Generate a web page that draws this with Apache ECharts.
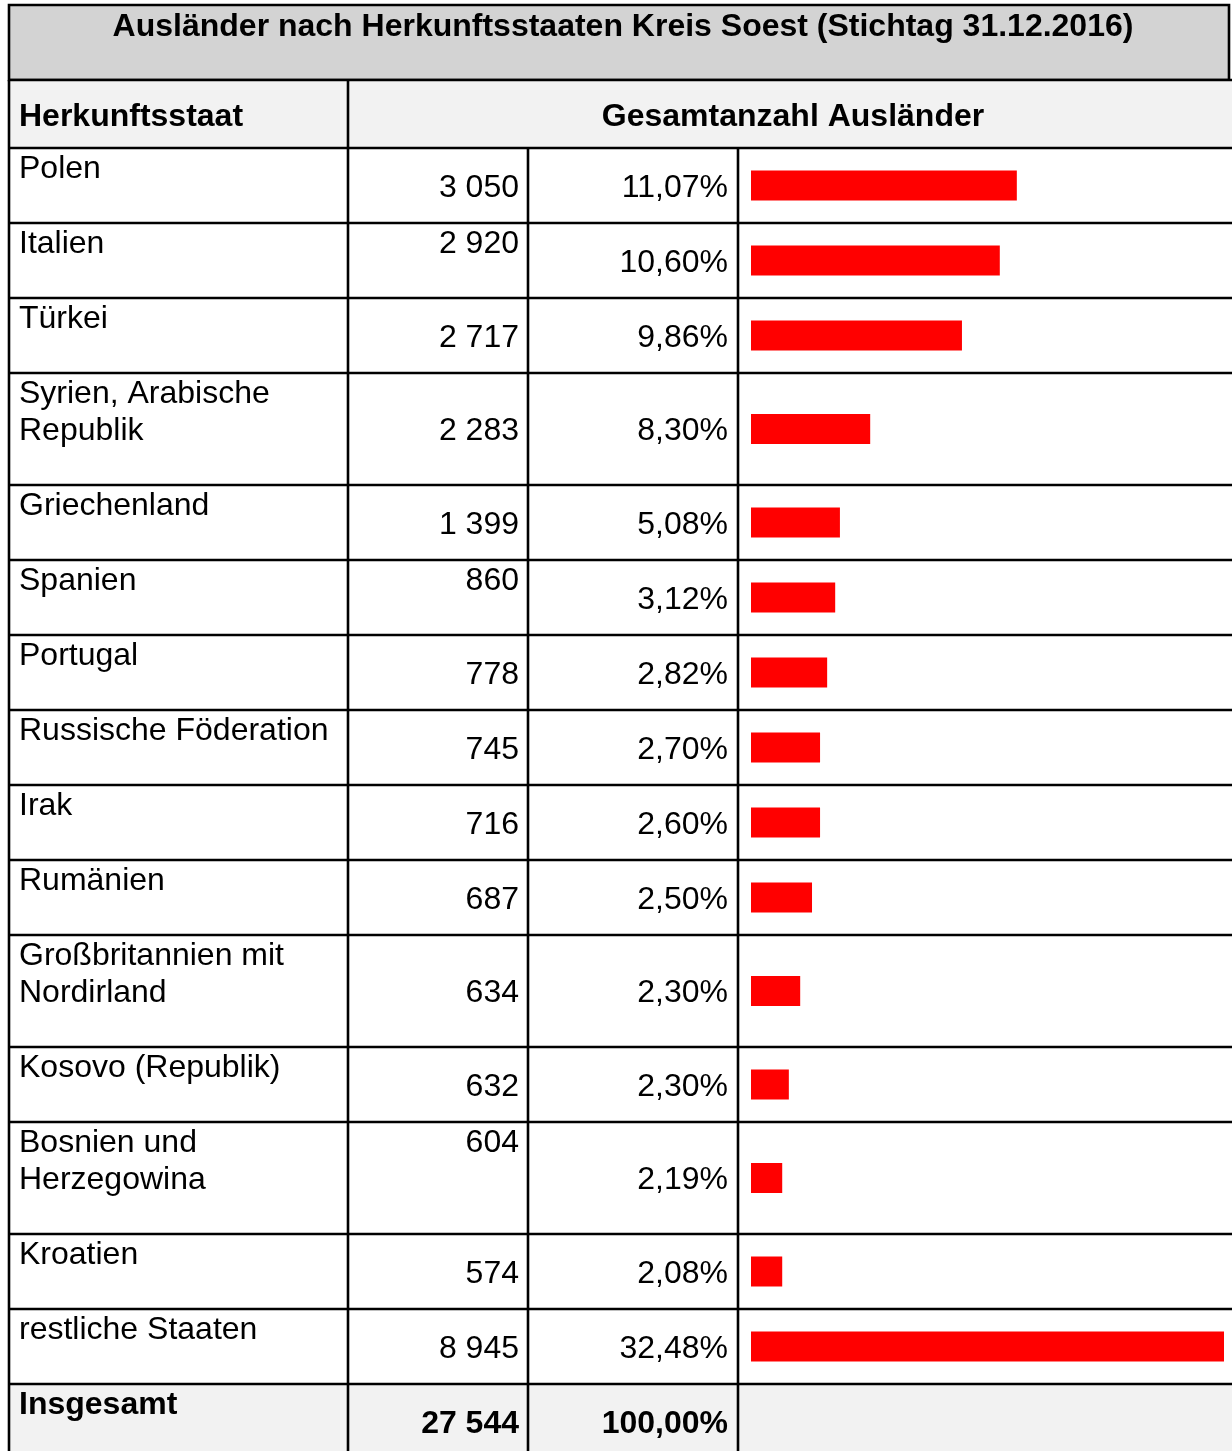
<!DOCTYPE html>
<html>
<head>
<meta charset="utf-8">
<script src="https://cdn.jsdelivr.net/npm/echarts@6/dist/echarts.min.js"></script>
<style>
html, body { margin: 0; padding: 0; background: #fff; }
#chart { width: 1232px; height: 1451px; }
</style>
</head>
<body>
<div id="chart"></div>
<script>
// Ausländer nach Herkunftsstaaten, Kreis Soest

const titleText = 'Ausländer nach Herkunftsstaaten Kreis Soest (Stichtag 31.12.2016)';
const headerLeft = 'Herkunftsstaat';
const headerRight = 'Gesamtanzahl Ausländer';

const countries = ['Polen', 'Italien', 'Türkei', 'Syrien, Arabische\nRepublik', 'Griechenland', 'Spanien',
    'Portugal', 'Russische Föderation', 'Irak', 'Rumänien', 'Großbritannien mit\nNordirland',
    'Kosovo (Republik)', 'Bosnien und\nHerzegowina', 'Kroatien', 'restliche Staaten'];
const counts = [3050, 2920, 2717, 2283, 1399, 860, 778, 745, 716, 687, 634, 632, 604, 574, 8945];
const percents = [11.07, 10.60, 9.86, 8.30, 5.08, 3.12, 2.82, 2.70, 2.60, 2.50, 2.30, 2.30, 2.19, 2.08, 32.48];
// Balkenlänge in % des längsten Balkens
const barValues = [56.2, 52.6, 44.6, 25.2, 18.8, 17.8, 16.1, 14.6, 14.6, 12.9, 10.4, 8.0, 6.6, 6.6, 100];
const totalLabel = 'Insgesamt';
const totalCount = 27544;
const totalPercent = 100;

// Zahlen, die in der Zelle oben stehen statt mittig
const countTopAligned = ['Italien', 'Spanien', 'Bosnien und\nHerzegowina'];

const FONT = "'Liberation Sans', Arial, sans-serif";
const colX = [9, 348, 528, 738];
const RIGHT = 1232;
const LINE_W = 2.6;
const tableTop = 148;

function fmtCount(n) {
    return String(n).replace(/\B(?=(\d{3})+(?!\d))/g, ' ');
}
function fmtPct(p) {
    return p.toFixed(2).replace('.', ',') + '%';
}

// Zeilenhöhen aus Anzahl der Textzeilen
const rowTops = [];
const rowHeights = [];
let y = tableTop;
countries.concat([totalLabel]).forEach(name => {
    const lines = name.split('\n').length;
    const h = 38 + 37 * lines;
    rowTops.push(y);
    rowHeights.push(h);
    y += h;
});

function line(x1, y1, x2, y2) {
    return {
        type: 'line',
        shape: { x1: x1, y1: y1, x2: x2, y2: y2 },
        style: { stroke: '#000', lineWidth: LINE_W }
    };
}

function txt(text, x, y, align, vAlign, bold) {
    return {
        type: 'text',
        style: {
            text: text, x: x, y: y,
            align: align, verticalAlign: vAlign,
            fontSize: 32, fontFamily: FONT, fontWeight: bold ? 'bold' : 'normal',
            lineHeight: 37, fill: '#000'
        }
    };
}

function renderRow(params, api) {
    const i = params.dataIndex;
    const isTotal = i === countries.length;
    const top = rowTops[i];
    const h = rowHeights[i];
    const mid = top + h / 2;
    const name = isTotal ? totalLabel : countries[i];
    const children = [];

    if (isTotal) {
        children.push({
            type: 'rect',
            shape: { x: colX[0], y: top, width: RIGHT - colX[0], height: h },
            style: { fill: '#f2f2f2' }
        });
    }

    if (!isTotal) {
        const x0 = api.coord([0, i])[0];
        const x1 = api.coord([api.value(0), i])[0];
        children.push({
            type: 'rect',
            shape: { x: x0, y: mid - 15, width: x1 - x0, height: 30 },
            style: { fill: '#ff0000' }
        });
    }

    children.push(line(colX[0], top, RIGHT, top));
    colX.forEach(cx => children.push(line(cx, top, cx, top + h)));

    children.push(txt(name, 19, top + 3, 'left', 'top', isTotal));

    const countStr = fmtCount(isTotal ? totalCount : counts[i]);
    if (!isTotal && countTopAligned.indexOf(name) >= 0) {
        children.push(txt(countStr, 519, top + 3, 'right', 'top', false));
    } else {
        children.push(txt(countStr, 519, mid + 2.5, 'right', 'middle', isTotal));
    }
    children.push(txt(fmtPct(isTotal ? totalPercent : percents[i]), 728, mid + 2.5, 'right', 'middle', isTotal));

    return { type: 'group', children: children };
}

const rowData = barValues.map((v, i) => [v, i]);
rowData.push([0, countries.length]);

const chart = echarts.init(document.getElementById('chart'));

const option = {
    animation: false,
    grid: { left: 751, right: 8, top: 0, bottom: 0 },
    xAxis: { type: 'value', min: 0, max: 100, show: false },
    yAxis: { type: 'value', min: 0, max: 16, show: false, inverse: true },
    graphic: [
        {
            type: 'rect', z: 0,
            shape: { x: colX[0], y: 5, width: 1229 - colX[0], height: 75 },
            style: { fill: '#d3d3d3', stroke: '#000', lineWidth: LINE_W }
        },
        {
            type: 'rect', z: 0,
            shape: { x: colX[0], y: 80, width: RIGHT - colX[0], height: tableTop - 80 },
            style: { fill: '#f2f2f2' }
        },
        {
            type: 'line', z: 1,
            shape: { x1: colX[0], y1: 80, x2: RIGHT, y2: 80 },
            style: { stroke: '#000', lineWidth: LINE_W }
        },
        {
            type: 'line', z: 1,
            shape: { x1: colX[0], y1: 80, x2: colX[0], y2: tableTop },
            style: { stroke: '#000', lineWidth: LINE_W }
        },
        {
            type: 'line', z: 1,
            shape: { x1: colX[1], y1: 80, x2: colX[1], y2: tableTop },
            style: { stroke: '#000', lineWidth: LINE_W }
        },
        {
            type: 'text', z: 1,
            style: {
                text: titleText, x: 623, y: 27, align: 'center', verticalAlign: 'middle',
                fontSize: 32, fontWeight: 'bold', fontFamily: FONT, fill: '#000'
            }
        },
        {
            type: 'text', z: 1,
            style: {
                text: headerLeft, x: 19, y: 117, align: 'left', verticalAlign: 'middle',
                fontSize: 32, fontWeight: 'bold', fontFamily: FONT, fill: '#000'
            }
        },
        {
            type: 'text', z: 1,
            style: {
                text: headerRight, x: 793, y: 117, align: 'center', verticalAlign: 'middle',
                fontSize: 32, fontWeight: 'bold', fontFamily: FONT, fill: '#000'
            }
        }
    ],
    series: [
        {
            type: 'custom',
            clip: false,
            z: 2,
            renderItem: renderRow,
            encode: { x: 0, y: 1 },
            data: rowData
        }
    ]
};

chart.setOption(option);

window.addEventListener('resize', function() {
    chart.resize();
});
</script>
</body>
</html>
